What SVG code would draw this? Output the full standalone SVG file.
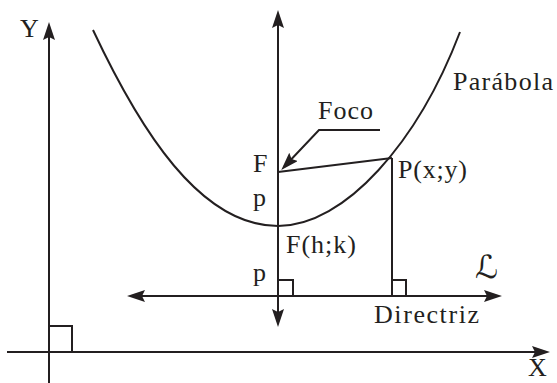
<svg xmlns="http://www.w3.org/2000/svg" width="557" height="383" viewBox="0 0 557 383">
<style>
.ln{stroke:#231f20;stroke-width:2;fill:none}
.ar{marker-end:url(#arr)}
.t{font-family:"Liberation Serif","Times New Roman",serif;font-size:26px;fill:#231f20}
</style>
<defs>
<marker id="arr" viewBox="0 0 18 12" refX="14" refY="6" markerWidth="18" markerHeight="12" markerUnits="userSpaceOnUse" orient="auto">
<path d="M0,0 L18,6 L0,12 L3,6 z" fill="#231f20"/>
</marker>
</defs>
<rect width="557" height="383" fill="#fff"/>
<g id="connectors">
<line id="axisY" class="ln ar" x1="49" y1="383" x2="49" y2="26"/>
<line id="axisX" class="ln ar" x1="7" y1="352" x2="546" y2="352"/>
<path id="origin-square" class="ln" d="M49,326 H72 V352"/>
<line id="axis-up" class="ln ar" x1="278" y1="200" x2="278" y2="14"/>
<line id="axis-down" class="ln ar" x1="278" y1="200" x2="278" y2="323"/>
<line id="dir-left" class="ln ar" x1="300" y1="296" x2="131" y2="296"/>
<line id="dir-right" class="ln ar" x1="300" y1="296" x2="498" y2="296"/>
<path id="sq1" class="ln" d="M278,280 H293 V296"/>
<path id="sq2" class="ln" d="M392,280 H406 V296"/>
<line id="PF" class="ln" x1="278" y1="172" x2="392" y2="158"/>
<line id="Pdir" class="ln" x1="392" y1="158" x2="392" y2="296"/>
<path id="foco-leader" class="ln ar" d="M380,130 H319 L284,167"/>
</g>
<g id="parabola">
<path class="ln" d="M93,30 C140,130 200,226 278,226 C345,226 418,142 460,32"/>
</g>
<g id="labels">
<text class="t" x="20" y="37">Y</text>
<text class="t" x="528" y="376">X</text>
<text class="t" x="453" y="90" textLength="100">Parábola</text>
<text class="t" x="318" y="119" textLength="55">Foco</text>
<text class="t" x="253" y="172">F</text>
<text class="t" x="253" y="206">p</text>
<text class="t" x="253" y="281">p</text>
<text class="t" x="398" y="178" textLength="69">P(x;y)</text>
<text class="t" x="286" y="253" textLength="70">F(h;k)</text>
<text class="t" x="374" y="323" textLength="105">Directriz</text>
<text x="475" y="278" style="font-family:'DejaVu Serif','DejaVu Sans',serif;font-size:32px;font-style:italic;fill:#231f20">ℒ</text>
</g>
</svg>
